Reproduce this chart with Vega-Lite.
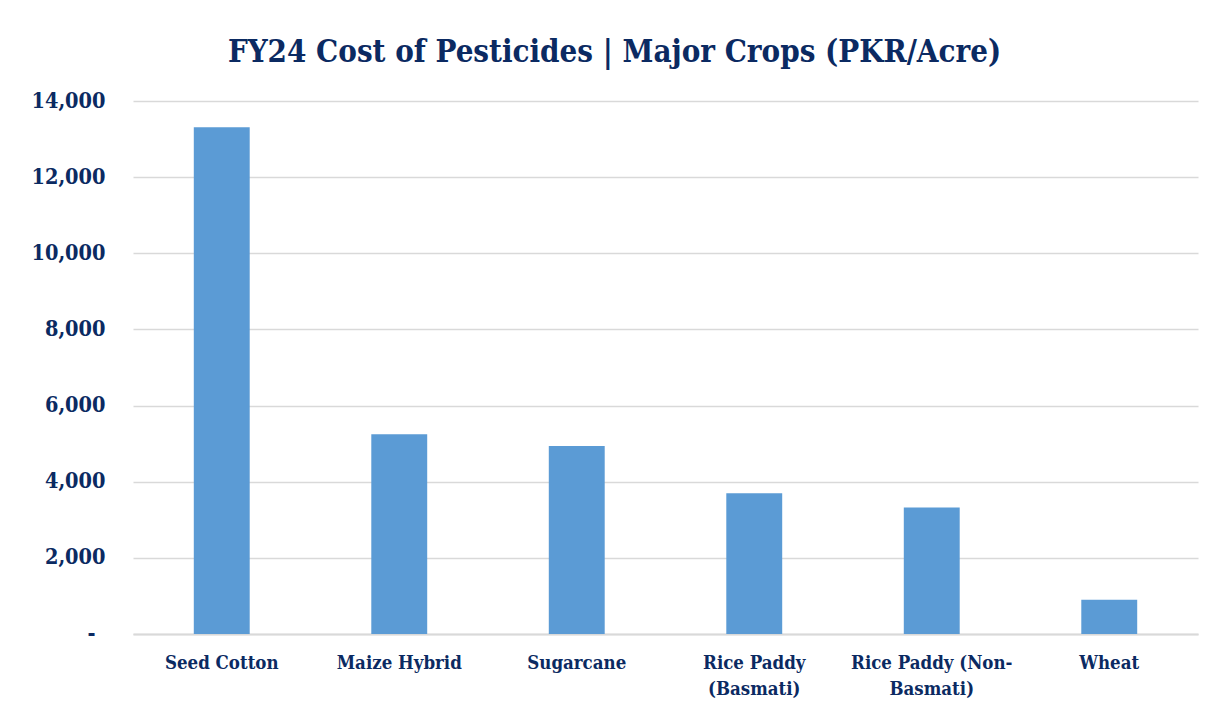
{
  "$schema": "https://vega.github.io/schema/vega-lite/v6.json",
  "autosize": {"type": "none"},
  "width": 1065,
  "height": 533,
  "padding": {"left": 133, "top": 101, "right": 18, "bottom": 77},
  "background": "white",
  "title": {
    "text": "FY24 Cost of Pesticides | Major Crops (PKR/Acre)",
    "font": "DejaVu Serif Condensed",
    "fontSize": 31,
    "fontWeight": "bold",
    "color": "#0B2A62",
    "anchor": "middle",
    "frame": "bounds",
    "offset": 21
  },
  "data": {
    "values": [
      {"crop": "Seed Cotton", "cost": 13310},
      {"crop": "Maize Hybrid", "cost": 5245},
      {"crop": "Sugarcane", "cost": 4935},
      {"crop": "Rice Paddy (Basmati)", "cost": 3695},
      {"crop": "Rice Paddy (Non-Basmati)", "cost": 3325},
      {"crop": "Wheat", "cost": 900}
    ]
  },
  "mark": {"type": "bar", "color": "#5B9BD5"},
  "encoding": {
    "x": {
      "field": "crop",
      "type": "nominal",
      "sort": null,
      "title": null,
      "scale": {"paddingInner": 0.685, "paddingOuter": 0.3425},
      "axis": {
        "labelAngle": 0,
        "labelFont": "DejaVu Serif Condensed",
        "labelFontSize": 18.5,
        "labelFontWeight": "bold",
        "labelColor": "#0B2A62",
        "labelPadding": 19,
        "labelLineHeight": 26,
        "labelLimit": 300,
        "ticks": false,
        "domainColor": "#D9D9D9",
        "domainWidth": 2,
        "labelExpr": "datum.label == 'Rice Paddy (Basmati)' ? ['Rice Paddy', '(Basmati)'] : datum.label == 'Rice Paddy (Non-Basmati)' ? ['Rice Paddy (Non-', 'Basmati)'] : datum.label"
      }
    },
    "y": {
      "field": "cost",
      "type": "quantitative",
      "title": null,
      "scale": {"domain": [0, 14000]},
      "axis": {
        "values": [0, 2000, 4000, 6000, 8000, 10000, 12000, 14000],
        "labelFont": "DejaVu Serif Condensed",
        "labelFontSize": 21.5,
        "labelFontWeight": "bold",
        "labelColor": "#0B2A62",
        "labelPadding": {"condition": {"test": "datum.value == 0", "value": 38}, "value": 28},
        "ticks": false,
        "domain": false,
        "gridColor": "#D9D9D9",
        "gridWidth": 1.5,
        "labelExpr": "datum.value == 0 ? '-' : format(datum.value, ',')"
      }
    }
  },
  "config": {"view": {"stroke": null}}
}
